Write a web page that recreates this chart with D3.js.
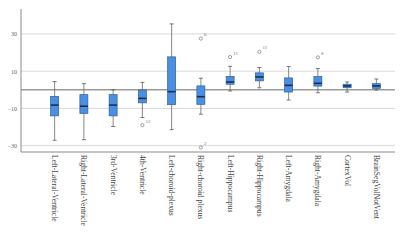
<!DOCTYPE html>
<html>
<head>
<meta charset="utf-8">
<script src="https://cdn.jsdelivr.net/npm/d3@7"></script>
<style>
  body { margin: 0; background: #fff; }
  svg { display: block; font-family: "Liberation Serif", "DejaVu Serif", serif; }
</style>
</head>
<body>
<svg id="chart" width="400" height="252"></svg>
<script>
const regions = ["Left-Lateral-Ventricle", "Right-Lateral-Ventricle", "3rd-Ventricle", "4th-Ventricle",
    "Left-choroid-plexus", "Right-choroid plexus", "Left-Hippocampus", "Right-Hippocampus",
    "Left-Amygdala", "Right-Amygdala", "CortexVol", "BrainSegVolNotVent"];

const whisker_low  = [-27.1, -26.8, -19.7, -14.9, -21.4, -13.1, -0.6, 1.1, -5.5, -1.6, -1.2, -0.1];
const q1           = [-14.0, -12.7, -14.0, -7.0, -8.0, -7.8, 3.0, 4.8, -1.2, 2.0, 1.1, 0.8];
const median       = [-8.2, -8.8, -8.2, -4.6, -1.0, -3.7, 4.2, 6.9, 2.4, 3.5, 2.1, 2.1];
const q3           = [-3.5, -2.6, -2.6, -0.1, 17.7, 2.1, 7.2, 9.1, 6.4, 7.1, 3.0, 3.3];
const whisker_high = [4.4, 3.3, 0.0, 4.0, 35.4, 6.2, 12.6, 12.0, 12.5, 11.4, 4.2, 5.8];

// outliers: [region index, value, case label]
const outliers = [[3, -19, "12"], [5, 27.5, "6"], [5, -31, "2"], [6, 17.6, "11"], [7, 20.4, "11"], [9, 17.4, "8"]];

const y_ticks = [30, 10, -10, -30];

const margin = {left: 21, right: 5, top: 9, bottom: 100};
const width = 400, height = 252;
const plot_bottom = height - margin.bottom;

const svg = d3.select("#chart");

const xScale = d3.scaleBand().domain(regions).range([40, 391]);
const yScale = d3.scaleLinear().domain([-33.4, 43.4]).range([plot_bottom, margin.top]);

// grid lines
svg.append("g").selectAll("line")
    .data(y_ticks).enter().append("line")
    .attr("x1", margin.left).attr("x2", width - margin.right)
    .attr("y1", d => yScale(d)).attr("y2", d => yScale(d))
    .style("stroke", "#d9d9d9").style("stroke-width", 1);

// y axis
svg.append("g")
    .attr("transform", "translate(" + margin.left + ",0)")
    .call(d3.axisLeft(yScale).tickValues(y_ticks).tickSize(0).tickPadding(4))
    .call(g => g.select(".domain").remove())
    .selectAll("text")
    .style("font-size", "6px").style("fill", "#666")
    .style("font-family", "Liberation Serif, serif");

// zero line
svg.append("line")
    .attr("x1", margin.left).attr("x2", width - margin.right)
    .attr("y1", yScale(0)).attr("y2", yScale(0))
    .style("stroke", "#9a9a9a").style("stroke-width", 1.5);

// axis frame
svg.append("line")
    .attr("x1", margin.left).attr("x2", margin.left)
    .attr("y1", margin.top).attr("y2", plot_bottom)
    .style("stroke", "#8a8a8a").style("stroke-width", 1);
svg.append("line")
    .attr("x1", margin.left).attr("x2", width - margin.right)
    .attr("y1", plot_bottom).attr("y2", plot_bottom)
    .style("stroke", "#8a8a8a").style("stroke-width", 1);

const boxW = 8, capW = 4;
const cx = d => xScale(d) + xScale.bandwidth() / 2;

const boxes = svg.append("g").selectAll(".box")
    .data(regions).enter().append("g")
    .attr("class", "box");

// whiskers
boxes.append("line")
    .attr("x1", d => cx(d)).attr("x2", d => cx(d))
    .attr("y1", (d, i) => yScale(whisker_high[i])).attr("y2", (d, i) => yScale(whisker_low[i]))
    .style("stroke", "#6a6a6a").style("stroke-width", 0.8);
boxes.append("line")
    .attr("x1", d => cx(d) - capW / 2).attr("x2", d => cx(d) + capW / 2)
    .attr("y1", (d, i) => yScale(whisker_high[i])).attr("y2", (d, i) => yScale(whisker_high[i]))
    .style("stroke", "#555").style("stroke-width", 0.8);
boxes.append("line")
    .attr("x1", d => cx(d) - capW / 2).attr("x2", d => cx(d) + capW / 2)
    .attr("y1", (d, i) => yScale(whisker_low[i])).attr("y2", (d, i) => yScale(whisker_low[i]))
    .style("stroke", "#555").style("stroke-width", 0.8);

// box
boxes.append("rect")
    .attr("x", d => cx(d) - boxW / 2)
    .attr("y", (d, i) => yScale(q3[i]))
    .attr("width", boxW)
    .attr("height", (d, i) => yScale(q1[i]) - yScale(q3[i]))
    .style("fill", "#4a8fe0").style("stroke", "#2f5f9f").style("stroke-width", 0.7);

// median
boxes.append("line")
    .attr("x1", d => cx(d) - boxW / 2).attr("x2", d => cx(d) + boxW / 2)
    .attr("y1", (d, i) => yScale(median[i])).attr("y2", (d, i) => yScale(median[i]))
    .style("stroke", "#1b2f55").style("stroke-width", 1.6);

// outliers
const outs = svg.append("g").selectAll(".outlier")
    .data(outliers).enter().append("g");
outs.append("circle")
    .attr("cx", d => cx(regions[d[0]]))
    .attr("cy", d => yScale(d[1]))
    .attr("r", 1.6)
    .style("fill", "none").style("stroke", "#777").style("stroke-width", 0.7);
outs.append("text")
    .attr("x", d => cx(regions[d[0]]) + 3)
    .attr("y", d => yScale(d[1]) - 2.5)
    .style("font-size", "5px").style("fill", "#777")
    .text(d => d[2]);

// x labels
svg.append("g").selectAll("text")
    .data(regions).enter().append("text")
    .attr("transform", d => "translate(" + (cx(d) - 2.5) + "," + (plot_bottom + 3) + ") rotate(90)")
    .style("font-size", "7.6px").style("fill", "#444")
    .text(d => d);
</script>
</body>
</html>
